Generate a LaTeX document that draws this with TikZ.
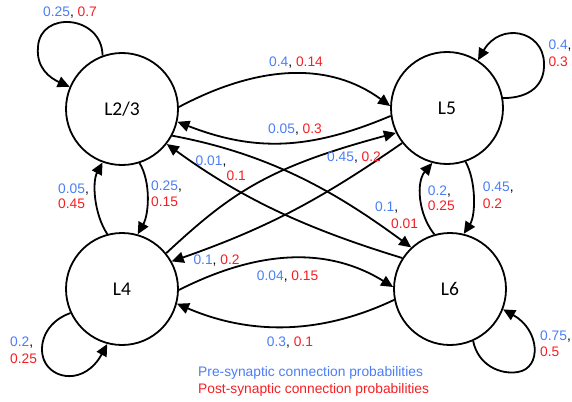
\documentclass[tikz,border=0pt]{standalone}
\usepackage{fontspec}
\setmainfont{Liberation Sans}
\newfontfamily\calibrifont{Carlito}
\usetikzlibrary{arrows.meta}
\definecolor{preblue}{RGB}{74,125,247}
\definecolor{postred}{RGB}{245,30,35}
\newcommand\bluetxt[1]{\textcolor{preblue}{#1}}
\newcommand\redtxt[1]{\textcolor{postred}{#1}}
\begin{document}
\begin{tikzpicture}[x=1pt,y=-1pt,
  layer/.style={circle,draw,line width=1.8pt,minimum size=112pt,inner sep=0pt,
    font=\calibrifont\fontsize{19.5}{22}\selectfont},
  conn/.style={line width=1.8pt,-{Triangle[length=12pt,width=11pt]}},
  lab/.style={anchor=base west,inner sep=0pt,font=\fontsize{13.8}{16.5}\selectfont}]
\useasboundingbox (0,0) rectangle (572,401);

% layers
\node[layer] (L23) at (122,109) {L2/3};
\node[layer] (L5)  at (447,108) {L5};
\node[layer] (L4)  at (122,289) {L4};
\node[layer] (L6)  at (450,289) {L6};

% connections between layers
\draw[conn] (L23.2)   .. controls (260,64)  and (330,62)  .. (L5.178);
\draw[conn] (L5.188)  .. controls (310,150) and (255,152) .. (L23.347);
\draw[conn] (L23.332) .. controls (270,154) and (336,192) .. (L6.133);
\draw[conn] (L6.147)  .. controls (304,228) and (241,198) .. (L23.322);
\draw[conn] (L4.39)   .. controls (232,192) and (269,167) .. (L5.206);
\draw[conn] (L5.218)  .. controls (320,200) and (267,228) .. (L4.29);
\draw[conn] (L23.288) .. controls (151,182) and (149,214) .. (L4.74);
\draw[conn] (L4.105)  .. controls (94,214)  and (92,182)  .. (L23.250);
\draw[conn] (L5.289)  .. controls (476,180) and (476,215) .. (L6.76);
\draw[conn] (L6.106)  .. controls (418,214) and (416,182) .. (L5.255);
\draw[conn] (L4.359)  .. controls (262,248) and (330,248) .. (L6.178);
\draw[conn] (L6.191)  .. controls (320,335) and (250,335) .. (L4.345);

% self loops
\draw[conn] (L23.110) .. controls (102,15) and (40,10) .. (38,47)
                      .. controls (36,68) and (50,78) .. (L23.157);
\draw[conn] (L5.10) .. controls (530,98) and (545,85) .. (544,63)
                    .. controls (543,30) and (500,22) .. (L5.57);
\draw[conn] (L4.205) .. controls (45,322) and (38,345) .. (44,360)
                     .. controls (52,380) and (85,385) .. (L4.255);
\draw[conn] (L6.294) .. controls (478,365) and (500,375) .. (518,372)
                     .. controls (542,368) and (540,330) .. (L6.339);

% probability labels
\node[lab] (t1)  at (43,16.7)    {\bluetxt{0.25}, \redtxt{0.7}};
\node[lab] (t2)  at (269,66.5)   {\bluetxt{0.4}, \redtxt{0.14}};
\node[lab] (t3)  at (268,133)    {\bluetxt{0.05}, \redtxt{0.3}};
\node[lab] (t4)  at (327,161.5)  {\bluetxt{0.45}, \redtxt{0.2}};
\node[lab] (t5a) at (195.5,165)  {\bluetxt{0.01},};
\node[lab] (t5b) at (226.5,180)  {\redtxt{0.1}};
\node[lab] (t6a) at (375,211.7)  {\bluetxt{0.1},};
\node[lab] (t6b) at (391,228.3)  {\redtxt{0.01}};
\node[lab] (t7a) at (151,190)    {\bluetxt{0.25},};
\node[lab] (t7b) at (151,206)    {\redtxt{0.15}};
\node[lab] (t8a) at (58,193.3)   {\bluetxt{0.05},};
\node[lab] (t8b) at (58,208.7)   {\redtxt{0.45}};
\node[lab] (t9a) at (427.7,195)  {\bluetxt{0.2},};
\node[lab] (t9b) at (427.7,210.5){\redtxt{0.25}};
\node[lab] (t10a) at (482.7,191.7) {\bluetxt{0.45},};
\node[lab] (t10b) at (482.7,208)   {\redtxt{0.2}};
\node[lab] (t11a) at (548.3,50)    {\bluetxt{0.4},};
\node[lab] (t11b) at (548.3,66.7)  {\redtxt{0.3}};
\node[lab] (t12) at (193.3,264)  {\bluetxt{0.1}, \redtxt{0.2}};
\node[lab] (t13) at (256.7,280)  {\bluetxt{0.04}, \redtxt{0.15}};
\node[lab] (t14) at (266.7,346.7){\bluetxt{0.3}, \redtxt{0.1}};
\node[lab] (t15a) at (10,346.7)  {\bluetxt{0.2},};
\node[lab] (t15b) at (10,363.3)  {\redtxt{0.25}};
\node[lab] (t16a) at (540,340)   {\bluetxt{0.75},};
\node[lab] (t16b) at (540,356.7) {\redtxt{0.5}};

% legend
\node[lab] (leg1) at (198,376.5) {\bluetxt{Pre-synaptic connection probabilities}};
\node[lab] (leg2) at (198,393)   {\redtxt{Post-synaptic connection probabilities}};
\end{tikzpicture}
\end{document}
